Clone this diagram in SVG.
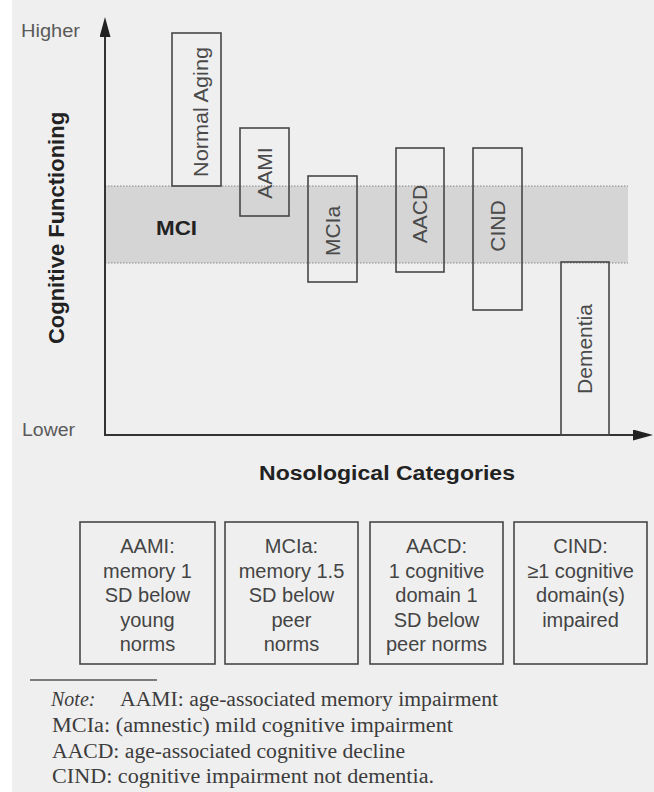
<svg xmlns="http://www.w3.org/2000/svg" width="654" height="792" viewBox="0 0 654 792">
  <style>
    .bg { fill: #efefef; }
    .box { fill: none; stroke: #474747; stroke-width: 1.6; }
    .axis { stroke: #333333; stroke-width: 2; fill: none; }
    .lbl { font-family: "Liberation Sans", Arial, sans-serif; font-size: 21px; fill: #4a4a4a; text-anchor: middle; }
    .def { font-family: "Liberation Sans", Arial, sans-serif; font-size: 20px; fill: #444444; text-anchor: middle; }
    .bold { font-family: "Liberation Sans", Arial, sans-serif; font-weight: bold; fill: #222222; }
    .tick { font-family: "Liberation Sans", Arial, sans-serif; font-size: 18px; fill: #5a5a5a; }
    .note { font-family: "Liberation Serif", "Times New Roman", serif; font-size: 20px; fill: #3c3c3c; }
    .band { fill: #d5d5d5; }
    .dots { stroke: #8a8a8a; stroke-width: 1.2; stroke-dasharray: 1.5 1.5; fill: none; }
  </style>
  <defs>
    <marker id="arrow" viewBox="0 0 20 11" refX="0" refY="5.5" markerWidth="20" markerHeight="11" markerUnits="userSpaceOnUse" orient="auto">
      <path d="M0,0 L20,5.5 L0,11 z" fill="#222222"/>
    </marker>
  </defs>

  <rect x="0" y="0" width="654" height="792" fill="#ffffff"/>
  <rect class="bg" x="12" y="0" width="642" height="792"/>

  <g id="mci-band">
    <rect class="band" x="105" y="186" width="523" height="77"/>
    <line class="dots" x1="105" y1="186" x2="628" y2="186"/>
    <line class="dots" x1="105" y1="263" x2="628" y2="263"/>
    <text class="bold" x="156" y="235" font-size="20" textLength="41" lengthAdjust="spacingAndGlyphs">MCI</text>
  </g>

  <g id="axes">
    <line class="axis" x1="105" y1="436" x2="105" y2="37" marker-end="url(#arrow)"/>
    <line class="axis" x1="104" y1="435" x2="633" y2="435" marker-end="url(#arrow)"/>
    <text class="tick" x="21" y="37" textLength="59" lengthAdjust="spacingAndGlyphs">Higher</text>
    <text class="tick" x="22" y="436" textLength="53" lengthAdjust="spacingAndGlyphs">Lower</text>
    <text class="bold" font-size="22" text-anchor="middle" transform="translate(64,228) rotate(-90)">Cognitive Functioning</text>
    <text class="bold" font-size="20" x="387" y="480" text-anchor="middle" textLength="256" lengthAdjust="spacingAndGlyphs">Nosological Categories</text>
  </g>

  <g id="normal-aging">
    <rect class="box" x="172" y="33" width="49" height="153"/>
    <text class="lbl" transform="translate(208,112) rotate(-90)" textLength="130" lengthAdjust="spacingAndGlyphs">Normal Aging</text>
  </g>
  <g id="aami">
    <rect class="box" x="240" y="128" width="49" height="88"/>
    <text class="lbl" transform="translate(272,173) rotate(-90)">AAMI</text>
  </g>
  <g id="mcia">
    <rect class="box" x="308" y="176" width="49" height="106"/>
    <text class="lbl" transform="translate(340,231) rotate(-90)">MCIa</text>
  </g>
  <g id="aacd">
    <rect class="box" x="396" y="148" width="48" height="124"/>
    <text class="lbl" transform="translate(427,214) rotate(-90)">AACD</text>
  </g>
  <g id="cind">
    <rect class="box" x="473" y="148" width="49" height="162"/>
    <text class="lbl" transform="translate(505,226) rotate(-90)">CIND</text>
  </g>
  <g id="dementia">
    <rect class="box" x="561" y="262" width="48" height="173"/>
    <text class="lbl" transform="translate(592,349) rotate(-90)">Dementia</text>
  </g>

  <g id="def-aami">
    <rect class="box" x="80" y="522" width="135" height="142"/>
    <text class="def" x="147.5" y="553">AAMI:</text>
    <text class="def" x="147.5" y="578">memory 1</text>
    <text class="def" x="147.5" y="602">SD below</text>
    <text class="def" x="147.5" y="627">young</text>
    <text class="def" x="147.5" y="651">norms</text>
  </g>
  <g id="def-mcia">
    <rect class="box" x="225" y="522" width="133" height="142"/>
    <text class="def" x="291.5" y="553">MCIa:</text>
    <text class="def" x="291.5" y="578">memory 1.5</text>
    <text class="def" x="291.5" y="602">SD below</text>
    <text class="def" x="291.5" y="627">peer</text>
    <text class="def" x="291.5" y="651">norms</text>
  </g>
  <g id="def-aacd">
    <rect class="box" x="370" y="522" width="133" height="142"/>
    <text class="def" x="436.5" y="553">AACD:</text>
    <text class="def" x="436.5" y="578">1 cognitive</text>
    <text class="def" x="436.5" y="602">domain 1</text>
    <text class="def" x="436.5" y="627">SD below</text>
    <text class="def" x="436.5" y="651">peer norms</text>
  </g>
  <g id="def-cind">
    <rect class="box" x="514" y="522" width="133" height="142"/>
    <text class="def" x="580.5" y="553">CIND:</text>
    <text class="def" x="580.5" y="578">≥1 cognitive</text>
    <text class="def" x="580.5" y="602">domain(s)</text>
    <text class="def" x="580.5" y="627">impaired</text>
  </g>

  <g id="note">
    <line x1="30" y1="680" x2="157" y2="680" stroke="#555555" stroke-width="1.6"/>
    <text class="note" x="51" y="706" font-style="italic">Note:</text>
    <text class="note" x="120" y="706" textLength="378" lengthAdjust="spacingAndGlyphs">AAMI: age-associated memory impairment</text>
    <text class="note" x="52" y="732" textLength="401" lengthAdjust="spacingAndGlyphs">MCIa: (amnestic) mild cognitive impairment</text>
    <text class="note" x="52" y="758" textLength="353" lengthAdjust="spacingAndGlyphs">AACD: age-associated cognitive decline</text>
    <text class="note" x="52" y="783" textLength="382" lengthAdjust="spacingAndGlyphs">CIND: cognitive impairment not dementia.</text>
  </g>
</svg>
